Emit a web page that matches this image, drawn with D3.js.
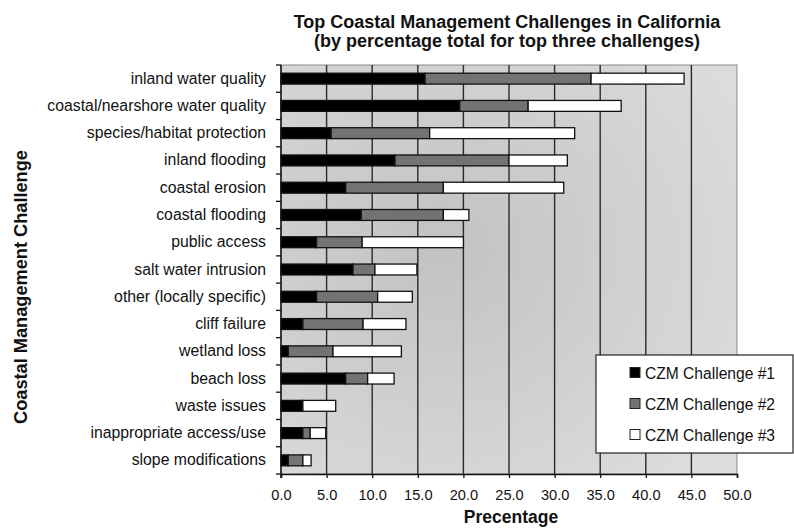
<!DOCTYPE html>
<html>
<head>
<meta charset="utf-8">
<script src="https://cdn.jsdelivr.net/npm/d3@7"></script>
<style>
  html, body { margin: 0; padding: 0; background: #fff; }
  svg { display: block; }
  text { font-family: "Liberation Sans", Arial, sans-serif; fill: #111; }
</style>
</head>
<body>
<div id="chart"></div>
<script>
// Coastal management challenges, stacked by rank of mention (percent of respondents)
const categories = [
  "inland water quality",
  "coastal/nearshore water quality",
  "species/habitat protection",
  "inland flooding",
  "coastal erosion",
  "coastal flooding",
  "public access",
  "salt water intrusion",
  "other (locally specific)",
  "cliff failure",
  "wetland loss",
  "beach loss",
  "waste issues",
  "inappropriate access/use",
  "slope modifications"
];
const challenge1 = [15.8, 19.6, 5.5, 12.5, 7.1, 8.8, 3.9, 7.9, 3.9, 2.4, 0.8, 7.1, 2.4, 2.4, 0.8];
const challenge2 = [18.2, 7.5, 10.8, 12.5, 10.7, 9.0, 5.0, 2.4, 6.7, 6.6, 4.9, 2.4, 0.0, 0.8, 1.6];
const challenge3 = [10.2, 10.2, 15.9, 6.4, 13.2, 2.8, 11.1, 4.6, 3.8, 4.7, 7.5, 2.9, 3.6, 1.7, 0.9];
const seriesNames = ["CZM Challenge #1", "CZM Challenge #2", "CZM Challenge #3"];
const seriesColors = ["#000000", "#737373", "#ffffff"];
const xTicks = [0, 5, 10, 15, 20, 25, 30, 35, 40, 45, 50];

const W = 794, H = 528;
const plot = { left: 281, right: 737, top: 65, bottom: 474 };

const rows = categories.map((c, i) => ({ cat: c, s0: challenge1[i], s1: challenge2[i], s2: challenge3[i] }));
const stack = d3.stack().keys(["s0", "s1", "s2"])(rows);

const x = d3.scaleLinear().domain([0, 50]).range([plot.left, plot.right]);
const y = d3.scaleBand().domain(categories).range([plot.top, plot.bottom])
  .paddingInner(0.6).paddingOuter(0.3);

const svg = d3.select("#chart").append("svg").attr("width", W).attr("height", H);

// shaded plot background
const defs = svg.append("defs");
const grad = defs.append("radialGradient").attr("id", "bg")
  .attr("cx", "0.35").attr("cy", "0.45").attr("r", "0.75");
grad.append("stop").attr("offset", "0").attr("stop-color", "#c2c2c2");
grad.append("stop").attr("offset", "1").attr("stop-color", "#dcdcdc");

svg.append("rect")
  .attr("x", plot.left).attr("y", plot.top)
  .attr("width", plot.right - plot.left).attr("height", plot.bottom - plot.top)
  .attr("fill", "url(#bg)").attr("stroke", "#8a8a8a").attr("stroke-width", 1);

// vertical gridlines
svg.append("g").selectAll("line").data(xTicks.filter(t => t > 0 && t < 50)).join("line")
  .attr("x1", d => x(d)).attr("x2", d => x(d))
  .attr("y1", plot.top).attr("y2", plot.bottom)
  .attr("stroke", "#2a2a2a").attr("stroke-width", 1.4);

// stacked bars
svg.append("g").selectAll("g").data(stack).join("g")
  .attr("fill", (d, i) => seriesColors[i])
  .selectAll("rect").data(d => d.filter(p => p[1] - p[0] > 0)).join("rect")
  .attr("x", d => x(d[0])).attr("width", d => x(d[1]) - x(d[0]))
  .attr("y", d => y(d.data.cat)).attr("height", y.bandwidth())
  .attr("stroke", "#111").attr("stroke-width", 1.3);

// y axis: labels at band centres, ticks at band boundaries
const yAxis = svg.append("g").attr("transform", `translate(${plot.left},0)`)
  .call(d3.axisLeft(y).tickSize(0).tickPadding(15));
yAxis.select(".domain").remove();
yAxis.selectAll("text").style("font-size", "15.8px").attr("fill", "#111");
const step = y.step();
svg.append("line").attr("x1", plot.left).attr("x2", plot.left)
  .attr("y1", plot.top).attr("y2", plot.bottom + 4)
  .attr("stroke", "#111").attr("stroke-width", 1.5);
svg.append("g").selectAll("line").data(d3.range(categories.length + 1)).join("line")
  .attr("x1", plot.left - 5).attr("x2", plot.left)
  .attr("y1", i => plot.top + i * step).attr("y2", i => plot.top + i * step)
  .attr("stroke", "#111").attr("stroke-width", 1.3);

// x axis
const xAxis = svg.append("g").attr("transform", `translate(0,${plot.bottom})`)
  .call(d3.axisBottom(x).tickValues(xTicks).tickFormat(d3.format(".1f")).tickSize(4).tickPadding(12));
xAxis.select(".domain").attr("stroke", "#111").attr("stroke-width", 1.5);
xAxis.selectAll(".tick line").attr("stroke", "#111").attr("stroke-width", 1.3);
xAxis.selectAll("text").style("font-size", "14.6px").attr("fill", "#111");

// titles
svg.append("text").attr("x", 507).attr("y", 28).attr("text-anchor", "middle")
  .style("font-size", "18px").style("font-weight", "bold")
  .text("Top Coastal Management Challenges in California");
svg.append("text").attr("x", 507).attr("y", 47).attr("text-anchor", "middle")
  .style("font-size", "18px").style("font-weight", "bold")
  .text("(by percentage total for top three challenges)");
svg.append("text").attr("x", 511).attr("y", 523).attr("text-anchor", "middle")
  .style("font-size", "17.5px").style("font-weight", "bold")
  .text("Precentage");
svg.append("text").attr("transform", "translate(27,287) rotate(-90)")
  .attr("text-anchor", "middle")
  .style("font-size", "18.2px").style("font-weight", "bold")
  .text("Coastal Management Challenge");

// legend
const lg = svg.append("g").attr("transform", "translate(596,355)");
lg.append("rect").attr("width", 197).attr("height", 98)
  .attr("fill", "#fff").attr("stroke", "#222").attr("stroke-width", 1.2);
const item = lg.selectAll("g.item").data(seriesNames).join("g").attr("class", "item")
  .attr("transform", (d, i) => `translate(34,${18 + i * 31})`);
item.append("rect").attr("x", 0).attr("y", -5.5).attr("width", 10).attr("height", 10)
  .attr("fill", (d, i) => seriesColors[i]).attr("stroke", "#222").attr("stroke-width", 1);
item.append("text").attr("x", 15).attr("y", 5.5)
  .style("font-size", "15.6px").text(d => d);
</script>
</body>
</html>
